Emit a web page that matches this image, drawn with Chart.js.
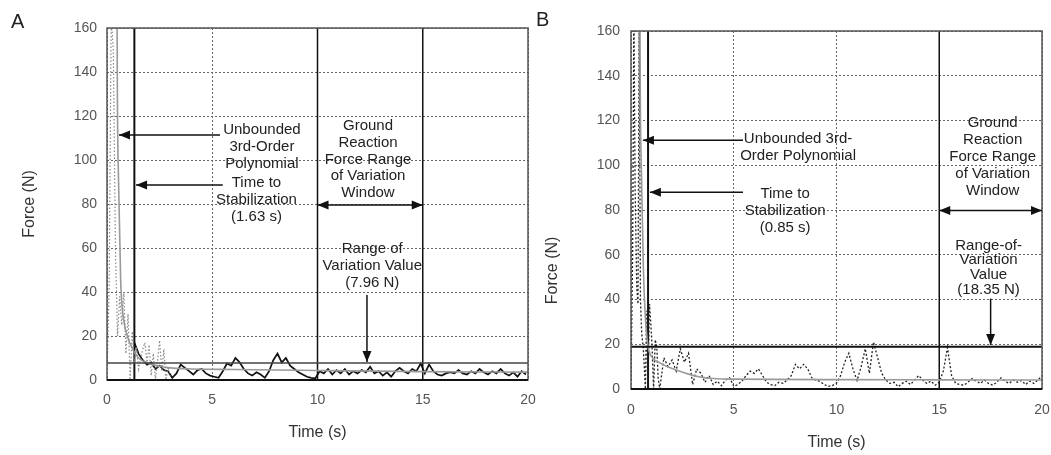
<!DOCTYPE html>
<html><head><meta charset="utf-8">
<script src="https://cdn.jsdelivr.net/npm/chart.js@4/dist/chart.umd.min.js"></script>
<style>
html,body{margin:0;padding:0;background:#fff;}
body{width:1051px;height:455px;position:relative;overflow:hidden;font-family:"Liberation Sans",Arial,sans-serif;}
#wa{position:absolute;left:0;top:0;width:540px;height:455px;}
#wb{position:absolute;left:531px;top:0;width:520px;height:455px;}
.pl{position:absolute;font-size:20px;line-height:22px;color:#222;}
</style></head><body>
<div id="wa"><canvas id="ca"></canvas></div>
<div id="wb"><canvas id="cb"></canvas></div>
<div class="pl" style="left:11px;top:10px">A</div>
<div class="pl" style="left:536px;top:8px">B</div>
<script>
// ---------- axes ----------
const timeMin = 0, timeMax = 20, timeStep = 5;
const forceMin = 0, forceMax = 160, forceStep = 20;
const sampleStep = 0.2;

// ---------- Panel A ----------
const rawTimeA  = [0,0.1,0.2,0.3,0.4,0.5,0.6,0.7,0.8,0.9,1.0,1.1,1.2,1.3,1.4,1.5,1.6,1.7,1.8,1.9,2.0,2.1,2.2,2.3,2.4,2.5,2.6,2.7,2.8,2.9,3.0];
const rawForceA = [3,40,165,150,60,20,38,25,40,12,30,0,22,8,15,5,10,14,17,8,16,2,12,0,9,18,4,14,0,6,2];
const filteredStartA = 1.3;
const filteredForceA = [17,12,9,7,8,5,6.5,4.5,4,1,3,7,5.5,4,2.5,4.5,5,3,2,1.5,1,4,7.5,6.5,10,8,5,3,2,3.5,2.5,1,4,9,12,8,10,6.5,5,3.5,2.5,1.5,1,0.8,
  4,3,5,2.5,4.5,3,5,2.5,4,3,4.5,3.5,6,3,4,2,3.5,1.5,4,5.5,4,3,5,4,7.5,3,7,4,2.5,2,3,3.5,3,4.5,3,2.5,4,3,5,3.5,2.5,4,3,5,3,2,3.5,1.5,4,2.5];
const polyTimeA  = [0.44,0.48,0.55,0.65,0.8,1.0,1.25,1.5,2,3,4,6,10,15,20];
const polyForceA = [400,160,90,45,27,19,13.5,10,7.5,5.5,5,4.8,4.3,3.8,3.6];
const stabilizationA = 1.3;
const windowA = [10, 15];
const rangeLineA = 7.7;

// ---------- Panel B ----------
const rawTimeB  = [0,0.08,0.14,0.2,0.28,0.34,0.4,0.46,0.52,0.6,0.7,0.76,0.82,0.9,0.96,1.02,1.1,1.18,1.26,1.32];
const rawForceB = [4,60,170,90,45,38,170,40,25,18,0,35,0,38,30,20,0,22,18,5];
const sampledStartB = 1.4;
const sampledForceB = [0,14,10,13,8,18,12,16,2,9,7,3,6,2,3.5,1.5,4,5,1.2,2,3.5,6,8,7,9,6,3,2,1.5,3,2.5,4,6,11,9,11,9,5,4,3.4,2,1.2,1.5,
  2.7,6,12,16,9,3.8,10,18,7,21,14,7,4,2.5,3,1,2.5,3.5,2,4,6,4,2.5,3.5,1.7,3,8,18.5,6,2.5,2,1.7,3,4.7,3.5,2.5,4,2.5,1.7,3,5,3.5,2.5,4,3,3.8,2,3.5,2.5,4,6];
const polyTimeB  = [0.4,0.44,0.5,0.6,0.7,0.83,1.0,1.4,2.2,3.35,4.9,10,15,20];
const polyForceB = [400,160,100,55,32,19,14.5,11.7,8.5,5.4,4.4,4.2,4.1,4.0];
const stabilizationB = 0.83;
const windowB = [15, 20];
const rangeLineB = 18.9;

const FAMILY = '"Liberation Sans", Arial, sans-serif';

const pts = (ts, fs) => ts.map((t, i) => ({x: t, y: fs[i]}));
const sampled = (start, fs) => fs.map((f, i) => ({x: Math.round((start + i * sampleStep) * 100) / 100, y: f}));

function arrowHead(ctx, x1, y1, x2, y2) {
  const a = Math.atan2(y2 - y1, x2 - x1), L = 11, W = 4.5;
  ctx.beginPath();
  ctx.moveTo(x2, y2);
  ctx.lineTo(x2 - L * Math.cos(a) + W * Math.sin(a), y2 - L * Math.sin(a) - W * Math.cos(a));
  ctx.lineTo(x2 - L * Math.cos(a) - W * Math.sin(a), y2 - L * Math.sin(a) + W * Math.cos(a));
  ctx.closePath(); ctx.fill();
}

function notesPlugin(cfg) {
  return {
    id: 'notes' + cfg.id,
    beforeDatasetsDraw(chart) {
      const {ctx, chartArea: a, scales: {x}} = chart;
      ctx.save();
      ctx.beginPath(); ctx.rect(a.left, a.top, a.width, a.height); ctx.clip();
      cfg.vLines.forEach(v => {
        const px = x.getPixelForValue(v.t);
        ctx.strokeStyle = v.color; ctx.lineWidth = v.width;
        ctx.beginPath(); ctx.moveTo(px, a.top); ctx.lineTo(px, a.bottom); ctx.stroke();
      });
      ctx.restore();
    },
    afterDatasetsDraw(chart) {
      const {ctx, chartArea: a, scales: {x, y}} = chart;
      ctx.save();
      cfg.hLines.forEach(h => {
        const py = y.getPixelForValue(h.f);
        ctx.strokeStyle = h.color; ctx.lineWidth = h.width;
        ctx.beginPath(); ctx.moveTo(a.left, py); ctx.lineTo(a.right, py); ctx.stroke();
      });
      // frame
      ctx.strokeStyle = '#555'; ctx.lineWidth = 1.5;
      ctx.strokeRect(a.left, a.top, a.width, a.height);
      ctx.strokeStyle = '#111'; ctx.lineWidth = 2;
      ctx.beginPath(); ctx.moveTo(a.left, a.bottom); ctx.lineTo(a.right, a.bottom); ctx.stroke();
      // arrows
      ctx.strokeStyle = '#111'; ctx.fillStyle = '#111'; ctx.lineWidth = 1.5;
      cfg.arrows.forEach(ar => {
        const x1 = x.getPixelForValue(ar.t1), y1 = y.getPixelForValue(ar.f1);
        const x2 = x.getPixelForValue(ar.t2), y2 = y.getPixelForValue(ar.f2);
        ctx.beginPath(); ctx.moveTo(x1, y1); ctx.lineTo(x2, y2); ctx.stroke();
        arrowHead(ctx, x1, y1, x2, y2);
        if (ar.both) arrowHead(ctx, x2, y2, x1, y1);
      });
      // texts
      ctx.fillStyle = '#222'; ctx.textAlign = 'center'; ctx.textBaseline = 'middle';
      cfg.texts.forEach(tx => {
        ctx.font = (tx.size || 15) + 'px ' + FAMILY;
        const px = x.getPixelForValue(tx.t), py = y.getPixelForValue(tx.f);
        tx.lines.forEach((s, i) => ctx.fillText(s, px, py + i * tx.gap));
      });
      if (cfg.yTitle) {
        ctx.save();
        ctx.font = '16px ' + FAMILY; ctx.fillStyle = '#333';
        ctx.translate(cfg.yTitle.x, y.getPixelForValue(cfg.yTitle.f));
        ctx.rotate(-Math.PI / 2);
        ctx.fillText(cfg.yTitle.text, 0, 0);
        ctx.restore();
      }
      ctx.restore();
    }
  };
}

function makeOptions(p) {
  const tickFont = {size: 14, family: FAMILY};
  return {
    responsive: true, maintainAspectRatio: false, animation: false,
    layout: {padding: p.padding},
    plugins: {legend: {display: false}, tooltip: {enabled: false}},
    scales: {
      x: {type: 'linear', min: timeMin, max: timeMax,
          ticks: {stepSize: timeStep, padding: p.xTickPad, color: '#555', font: tickFont},
          grid: {color: '#666', lineWidth: 1, drawTicks: false},
          border: {display: false, dash: [2, 2]},
          title: {display: true, text: 'Time (s)', color: '#333', font: {size: 16, family: FAMILY}, padding: {top: 0, bottom: p.xTitlePad}},
          afterFit(s) { s.height = p.xHeight; s.paddingLeft = 0; s.paddingRight = 0; }},
      y: {type: 'linear', min: forceMin, max: forceMax,
          ticks: {stepSize: forceStep, padding: p.yTickPad, color: '#555', font: tickFont},
          grid: {color: '#666', lineWidth: 1, drawTicks: false},
          border: {display: false, dash: [2, 2]},
          title: {display: p.yTitle, text: 'Force (N)', color: '#333', font: {size: 16, family: FAMILY}, padding: {top: p.yTitlePad, bottom: 0}},
          afterFit(s) { s.width = p.yWidth; s.paddingTop = 0; s.paddingBottom = 0; }}
    }
  };
}

new Chart(document.getElementById('ca'), {
  type: 'line',
  data: {datasets: [
    {data: pts(rawTimeA, rawForceA), borderColor: '#8a8a8a', borderWidth: 1.2, borderDash: [1.5, 2], pointRadius: 0},
    {data: pts(polyTimeA, polyForceA), borderColor: '#9a9a9a', borderWidth: 1.6, pointRadius: 0, cubicInterpolationMode: 'monotone'},
    {data: sampled(filteredStartA, filteredForceA), borderColor: '#111', borderWidth: 1.7, pointRadius: 0}
  ]},
  options: makeOptions({padding: {left: 0, top: 28, right: 12, bottom: 0}, xTickPad: 12, yTickPad: 10, xTitlePad: 13, yTitlePad: 20, yTitle: true, xHeight: 75, yWidth: 107}),
  plugins: [notesPlugin({
    id: 'A',
    vLines: [{t: stabilizationA, color: '#111', width: 2}, {t: windowA[0], color: '#111', width: 1.5}, {t: windowA[1], color: '#111', width: 1.5}],
    hLines: [{f: rangeLineA, color: '#444', width: 1.5}],
    arrows: [
      {t1: 5.37, f1: 111.4, t2: 0.57, f2: 111.4},
      {t1: 5.5, f1: 88.6, t2: 1.38, f2: 88.6},
      {t1: windowA[0], f1: 79.5, t2: windowA[1], f2: 79.5, both: true},
      {t1: 12.35, f1: 38.6, t2: 12.35, f2: 8.2}
    ],
    texts: [
      {t: 7.36, f: 113.6, gap: 16.7, lines: ['Unbounded', '3rd-Order', 'Polynomial']},
      {t: 7.1, f: 89.5, gap: 16.7, lines: ['Time to', 'Stabilization', '(1.63 s)']},
      {t: 12.4, f: 115.5, gap: 16.8, lines: ['Ground', 'Reaction', 'Force Range', 'of Variation', 'Window']},
      {t: 12.6, f: 59.5, gap: 17, lines: ['Range of', 'Variation Value', '(7.96 N)']}
    ]
  })]
});

new Chart(document.getElementById('cb'), {
  type: 'line',
  data: {datasets: [
    {data: pts(polyTimeB, polyForceB), borderColor: '#9a9a9a', borderWidth: 1.6, pointRadius: 0, cubicInterpolationMode: 'monotone'},
    {data: pts(rawTimeB, rawForceB).concat(sampled(sampledStartB, sampledForceB)), borderColor: '#222', borderWidth: 1.3, borderDash: [2, 2], pointRadius: 0}
  ]},
  options: makeOptions({padding: {left: 0, top: 31, right: 9, bottom: 0}, xTickPad: 13, yTickPad: 11, xTitlePad: 3, yTitlePad: 12, yTitle: false, xHeight: 66, yWidth: 100}),
  plugins: [notesPlugin({
    id: 'B',
    vLines: [{t: stabilizationB, color: '#111', width: 2}, {t: windowB[0], color: '#111', width: 1.5}],
    hLines: [{f: rangeLineB, color: '#111', width: 2}],
    arrows: [
      {t1: 5.45, f1: 111.2, t2: 0.58, f2: 111.2},
      {t1: 5.45, f1: 87.9, t2: 0.92, f2: 87.9},
      {t1: windowB[0], f1: 79.8, t2: windowB[1], f2: 79.8, both: true},
      {t1: 17.5, f1: 40.4, t2: 17.5, f2: 19.7}
    ],
    texts: [
      {t: 8.13, f: 111.7, gap: 17, lines: ['Unbounded 3rd-', 'Order Polynomial']},
      {t: 7.5, f: 87, gap: 17, lines: ['Time to', 'Stabilization', '(0.85 s)']},
      {t: 17.6, f: 118.8, gap: 17, lines: ['Ground', 'Reaction', 'Force Range', 'of Variation', 'Window']},
      {t: 17.4, f: 64.1, gap: 14.7, lines: ['Range-of-', 'Variation', 'Value', '(18.35 N)']}
    ],
    yTitle: {x: 22, f: 53, text: 'Force (N)'}
  })]
});
</script>
</body></html>
